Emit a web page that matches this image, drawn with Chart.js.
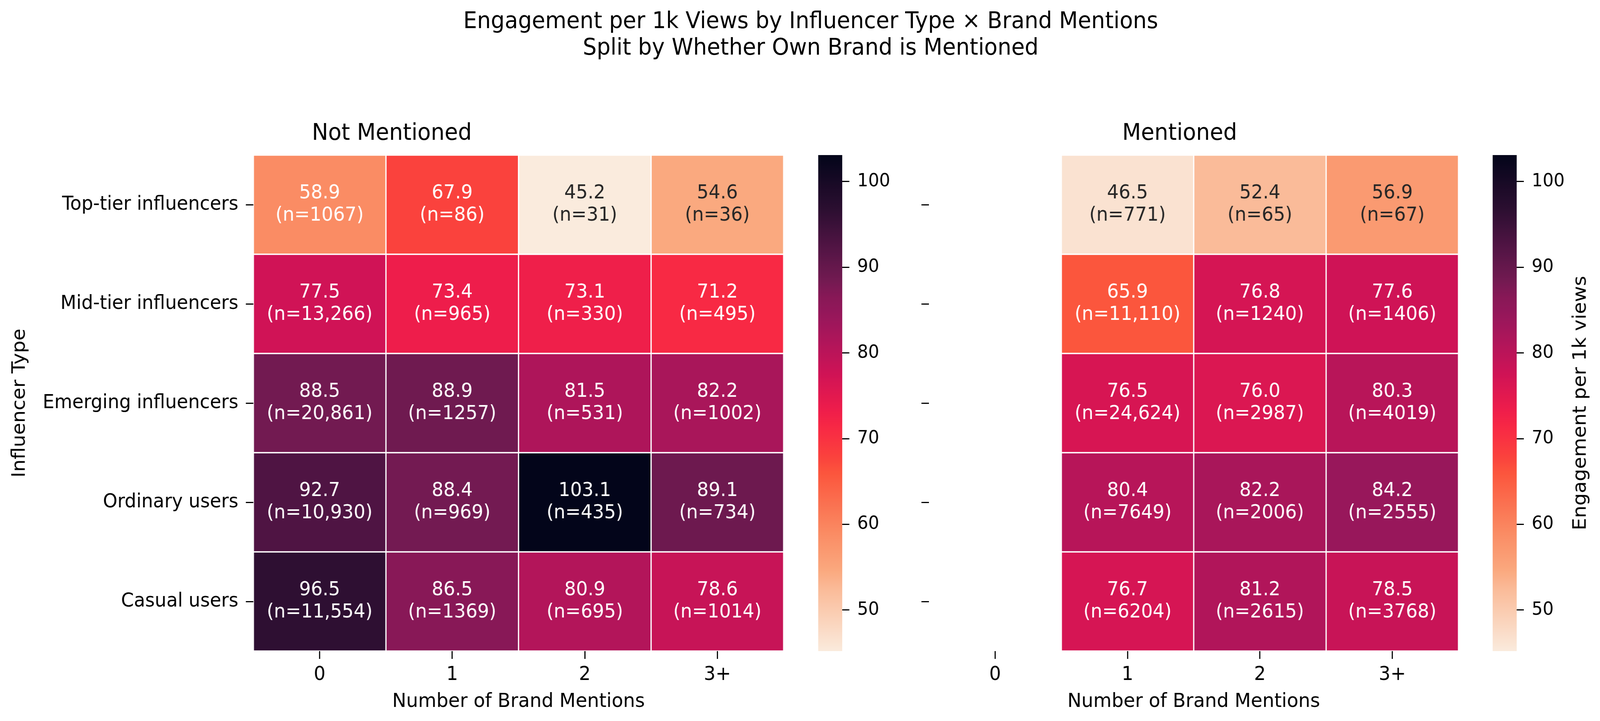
<!DOCTYPE html>
<html>
<head>
<meta charset="utf-8">
<script src="https://cdn.jsdelivr.net/npm/chart.js@4.4.1/dist/chart.umd.min.js"></script>
<style>
  html, body { margin: 0; padding: 0; background: #ffffff; overflow: hidden; }
  #stage { position: absolute; left: 0; top: 0; width: 4263px; height: 1846px; transform-origin: 0 0; overflow: hidden; background: #fff; }
  canvas { position: absolute; }
  #suptitle { position: absolute; left: 0; top: 18px; width: 4263px; text-align: center; padding-left: 57px; box-sizing: border-box;
    font-family: 'DejaVu Sans', sans-serif; font-size: 58px; line-height: 68px; color: #000; }
</style>
</head>
<body>
<div id="stage">
<div id="suptitle">Engagement per 1k Views by Influencer Type × Brand Mentions<br>Split by Whether Own Brand is Mentioned</div>
<canvas id="hmLeft" width="2763" height="1566" style="left:0px;top:280px"></canvas>
<canvas id="hmRight" width="1561" height="1566" style="left:2400px;top:280px"></canvas>
<canvas id="cbLeft" width="270" height="1566" style="left:2150px;top:280px"></canvas>
<canvas id="cbRight" width="313" height="1566" style="left:3950px;top:280px"></canvas>
</div>
<script>
// ---------------- DATA ----------------
const influencerTypes = ['Top-tier influencers', 'Mid-tier influencers', 'Emerging influencers', 'Ordinary users', 'Casual users'];
const mentionBins = ['0', '1', '2', '3+'];

// Engagement per 1k views — own brand NOT mentioned (rows = influencer type, cols = mention bins)
const notMentionedEng = [
  [58.9, 67.9, 45.2, 54.6],
  [77.5, 73.4, 73.1, 71.2],
  [88.5, 88.9, 81.5, 82.2],
  [92.7, 88.4, 103.1, 89.1],
  [96.5, 86.5, 80.9, 78.6]
];
const notMentionedN = [
  [1067, 86, 31, 36],
  [13266, 965, 330, 495],
  [20861, 1257, 531, 1002],
  [10930, 969, 435, 734],
  [11554, 1369, 695, 1014]
];
// Own brand mentioned (column "0" has no data)
const mentionedEng = [
  [null, 46.5, 52.4, 56.9],
  [null, 65.9, 76.8, 77.6],
  [null, 76.5, 76.0, 80.3],
  [null, 80.4, 82.2, 84.2],
  [null, 76.7, 81.2, 78.5]
];
const mentionedN = [
  [null, 771, 65, 67],
  [null, 11110, 1240, 1406],
  [null, 24624, 2987, 4019],
  [null, 7649, 2006, 2555],
  [null, 6204, 2615, 3768]
];
const colorbarTicks = [50, 60, 70, 80, 90, 100];

// ---------------- STYLE ----------------
const stage = document.getElementById('stage');
const sx = window.innerWidth / 4263, sy = window.innerHeight / 1846;
stage.style.transform = `scale(${sx}, ${sy})`;

const FONT = "'DejaVu Sans', sans-serif";
// rocket colormap (dark -> light), position / colour
const ROCKET_POS = [0.000, 0.114, 0.180, 0.250, 0.287, 0.326, 0.383, 0.442, 0.513, 0.551, 0.608, 0.642, 0.763, 0.838, 0.876, 1.000];
const ROCKET_HEX = ['#03051A', '#2E0F32', '#4F1443', '#711A51', '#881857', '#98175B', '#B3155A', '#D01356', '#EE1D4B', '#F82944', '#FA423D', '#FB563D', '#FA8C64', '#FAA97F', '#FABB99', '#FAEBDD'];
const rocketRgb = ROCKET_HEX.map(h => [parseInt(h.slice(1, 3), 16), parseInt(h.slice(3, 5), 16), parseInt(h.slice(5, 7), 16)]);

const allVals = [...notMentionedEng.flat(), ...mentionedEng.flat()].filter(v => v !== null);
const vmin = Math.min(...allVals);
const vmax = Math.max(...allVals);

// reversed rocket: t=0 -> light, t=1 -> dark
function rocketR(t) {
  const p = 1 - Math.min(Math.max(t, 0), 1);
  let i = 0;
  while (i < ROCKET_POS.length - 2 && p > ROCKET_POS[i + 1]) i++;
  const f = (p - ROCKET_POS[i]) / (ROCKET_POS[i + 1] - ROCKET_POS[i]);
  const a = rocketRgb[i], b = rocketRgb[i + 1];
  return [0, 1, 2].map(k => a[k] + (b[k] - a[k]) * f);
}
function css(rgb) { return `rgb(${rgb.map(c => Math.round(c)).join(',')})`; }
function colorFor(v) { return rocketR((v - vmin) / (vmax - vmin)); }
function textColorFor(v) {
  const lin = colorFor(v).map(c => { c /= 255; return c <= 0.03928 ? c / 12.92 : Math.pow((c + 0.055) / 1.055, 2.4); });
  const L = 0.2126 * lin[0] + 0.7152 * lin[1] + 0.0722 * lin[2];
  return L > 0.408 ? '#262626' : '#ffffff';
}
function fmtN(n) { return n >= 10000 ? n.toLocaleString('en-US') : String(n); }

const cellLabels = {
  id: 'cellLabels',
  afterDatasetsDraw(chart) {
    const { ctx } = chart;
    chart.data.datasets.forEach((ds, di) => {
      const meta = chart.getDatasetMeta(di);
      meta.data.forEach((el, j) => {
        const v = ds.engValues[j];
        if (v === null || v === undefined) return;
        const cx = el.x, cy = (el.y + el.base) / 2;
        ctx.save();
        ctx.fillStyle = textColorFor(v);
        ctx.font = `49px ${FONT}`;
        ctx.textAlign = 'center';
        ctx.textBaseline = 'alphabetic';
        ctx.fillText(v.toFixed(1), cx, cy - 16);
        ctx.fillText(`(n=${fmtN(ds.nValues[j])})`, cx, cy + 41);
        ctx.restore();
      });
    });
  }
};

function heatmapConfig(title, eng, ns, showYLabels, yWidth, padRight) {
  const datasets = influencerTypes.map((row, r) => ({
    label: row,
    data: mentionBins.map((_, c) => eng[r][c] === null ? null : [r, r + 1]),
    engValues: eng[r],
    nValues: ns[r],
    backgroundColor: ctx => {
      const v = ctx.dataset.engValues[ctx.dataIndex];
      return v === null ? 'rgba(0,0,0,0)' : css(colorFor(v));
    },
    borderColor: '#ffffff',
    borderWidth: 2,
    borderSkipped: false,
    barPercentage: 1,
    categoryPercentage: 1
  }));
  const tickGrid = { display: true, drawOnChartArea: false, drawTicks: true, tickLength: 20, tickWidth: 3, tickColor: '#000', offset: false };
  return {
    type: 'bar',
    data: { labels: mentionBins, datasets },
    options: {
      responsive: false, animation: false, devicePixelRatio: 1,
      layout: { padding: { left: 0, right: padRight, top: 0, bottom: 0 } },
      plugins: {
        legend: { display: false },
        tooltip: { enabled: false },
        title: { display: true, text: title, color: '#000', font: { family: FONT, size: 58, weight: 'normal' }, padding: { top: 27.7, bottom: 19.7 } }
      },
      scales: {
        x: {
          type: 'category', stacked: true, offset: true,
          grid: tickGrid, border: { display: false },
          ticks: { color: '#000', font: { family: FONT, size: 49 }, padding: 12, maxRotation: 0, autoSkip: false },
          title: { display: true, text: 'Number of Brand Mentions', color: '#000', font: { family: FONT, size: 50 }, padding: { top: 0, bottom: 19 } },
          afterFit(s) { s.height = 179; }
        },
        y: {
          type: 'linear', min: 0, max: influencerTypes.length, reverse: true,
          afterBuildTicks(s) { s.ticks = influencerTypes.map((_, i) => ({ value: i + 0.5 })); },
          grid: tickGrid, border: { display: false },
          ticks: { display: showYLabels, color: '#000', font: { family: FONT, size: 49 }, padding: 20, autoSkip: false,
                   callback: (v, i) => influencerTypes[i] },
          title: { display: showYLabels, text: 'Influencer Type', color: '#000', font: { family: FONT, size: 50 }, padding: { top: 23, bottom: 0 } },
          afterFit(s) { s.width = yWidth; }
        }
      }
    },
    plugins: [cellLabels]
  };
}

function gradientFill(context) {
  const chart = context.chart;
  if (!chart.chartArea) return null;
  const y = chart.scales.y;
  const g = chart.ctx.createLinearGradient(0, y.getPixelForValue(vmin), 0, y.getPixelForValue(vmax));
  for (let k = 0; k <= 128; k++) { const t = k / 128; g.addColorStop(t, css(rocketR(t))); }
  return g;
}

const cbarTitle = {
  id: 'cbarTitle',
  afterDraw(chart) {
    const { ctx, chartArea } = chart;
    ctx.save();
    ctx.translate(chartArea.right + 171, (chartArea.top + chartArea.bottom) / 2);
    ctx.rotate(-Math.PI / 2);
    ctx.font = `50px ${FONT}`;
    ctx.fillStyle = '#000';
    ctx.textAlign = 'center';
    ctx.textBaseline = 'middle';
    ctx.fillText('Engagement per 1k views', 0, 0);
    ctx.restore();
  }
};

function colorbarConfig(padLeft, axisWidth, withLabel) {
  return {
    type: 'bar',
    data: { labels: [''], datasets: [{ data: [[vmin, vmax]], backgroundColor: gradientFill, borderWidth: 0, barPercentage: 1, categoryPercentage: 1 }] },
    options: {
      responsive: false, animation: false, devicePixelRatio: 1,
      layout: { padding: { left: padLeft, right: 0, top: 117, bottom: 179 } },
      plugins: { legend: { display: false }, tooltip: { enabled: false }, title: { display: false } },
      scales: {
        x: { display: false },
        y: {
          position: 'right', min: vmin, max: vmax,
          afterBuildTicks(s) { s.ticks = colorbarTicks.map(v => ({ value: v })); },
          grid: { display: true, drawOnChartArea: false, drawTicks: true, tickLength: 19, tickWidth: 3, tickColor: '#000' },
          border: { display: false },
          ticks: { color: '#000', font: { family: FONT, size: 46 }, padding: 21 },
          afterFit(s) { s.width = axisWidth; }
        }
      }
    },
    plugins: withLabel ? [cbarTitle] : []
  };
}

new Chart(document.getElementById('hmLeft'), heatmapConfig('Not Mentioned', notMentionedEng, notMentionedN, true, 675, 675));
new Chart(document.getElementById('hmRight'), heatmapConfig('Mentioned', mentionedEng, mentionedN, false, 75, 75));
new Chart(document.getElementById('cbLeft'), colorbarConfig(30, 176, false));
new Chart(document.getElementById('cbRight'), colorbarConfig(27, 222, true));
</script>
</body>
</html>
